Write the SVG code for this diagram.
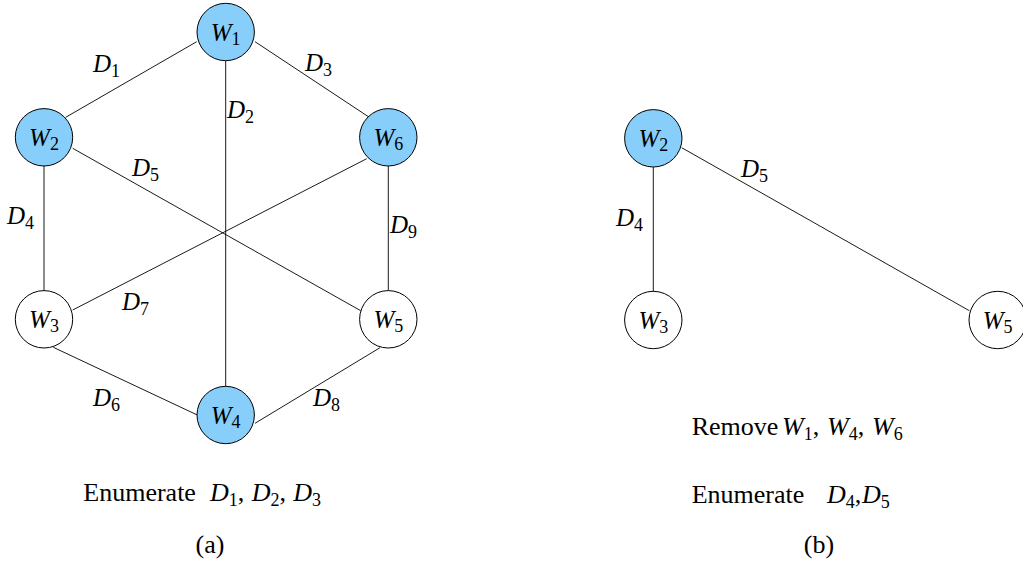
<svg xmlns="http://www.w3.org/2000/svg" width="1023" height="567" viewBox="0 0 1023 567">
<style>
text{font-family:'Liberation Serif','DejaVu Serif',serif;font-size:25px;fill:#000}
.i{font-style:italic}
.s{font-size:18px;font-style:normal}
.node{stroke:#000;stroke-width:1}
.on{fill:#87CEFA}
.off{fill:#fff}
.edge line{stroke:#000;stroke-width:0.9}
.cap{font-size:26px}
</style>
<rect width="1023" height="567" fill="#fff"/>
<g id="connectors" class="edge">
<line x1="196.7" y1="41.7" x2="65.7" y2="117.3"/>
<line x1="255" y1="41.7" x2="369.3" y2="117.3"/>
<line x1="225.7" y1="61" x2="225.7" y2="386.7"/>
<line x1="44" y1="166" x2="44" y2="290.7"/>
<line x1="388.3" y1="166" x2="388.3" y2="290.7"/>
<line x1="72.7" y1="148.3" x2="360.7" y2="310.7"/>
<line x1="366.7" y1="158.7" x2="72.7" y2="310"/>
<line x1="53.3" y1="347.3" x2="197.3" y2="415"/>
<line x1="255" y1="423.3" x2="380" y2="347.7"/>
<line x1="653.3" y1="166.7" x2="653.3" y2="291.7"/>
<line x1="681.7" y1="147.7" x2="969.3" y2="310.7"/>
</g>
<g id="edge-labels">
<text x="93" y="71.7" class="i">D<tspan class="s" dy="5">1</tspan></text>
<text x="305" y="71" class="i">D<tspan class="s" dy="5">3</tspan></text>
<text x="227" y="118" class="i">D<tspan class="s" dy="5">2</tspan></text>
<text x="132" y="175.7" class="i">D<tspan class="s" dy="5">5</tspan></text>
<text x="7" y="224" class="i">D<tspan class="s" dy="5">4</tspan></text>
<text x="390" y="233" class="i">D<tspan class="s" dy="5">9</tspan></text>
<text x="122" y="310" class="i">D<tspan class="s" dy="5">7</tspan></text>
<text x="93" y="405.7" class="i">D<tspan class="s" dy="5">6</tspan></text>
<text x="313" y="405.7" class="i">D<tspan class="s" dy="5">8</tspan></text>
<text x="741" y="176.7" class="i">D<tspan class="s" dy="5">5</tspan></text>
<text x="616" y="226" class="i">D<tspan class="s" dy="5">4</tspan></text>
</g>
<g id="a-W1"><circle class="node on" cx="225.7" cy="32" r="28.7"/><text x="225.7" y="41" text-anchor="middle" class="i">W<tspan class="s" dy="4">1</tspan></text></g>
<g id="a-W2"><circle class="node on" cx="44" cy="137.3" r="28.7"/><text x="44" y="146.3" text-anchor="middle" class="i">W<tspan class="s" dy="4">2</tspan></text></g>
<g id="a-W6"><circle class="node on" cx="388.3" cy="137.3" r="28.7"/><text x="388.3" y="146.3" text-anchor="middle" class="i">W<tspan class="s" dy="4">6</tspan></text></g>
<g id="a-W3"><circle class="node off" cx="44" cy="319.3" r="28.7"/><text x="44" y="328.3" text-anchor="middle" class="i">W<tspan class="s" dy="4">3</tspan></text></g>
<g id="a-W5"><circle class="node off" cx="388.3" cy="319.3" r="28.7"/><text x="388.3" y="328.3" text-anchor="middle" class="i">W<tspan class="s" dy="4">5</tspan></text></g>
<g id="a-W4"><circle class="node on" cx="225.7" cy="415" r="28.7"/><text x="225.7" y="424" text-anchor="middle" class="i">W<tspan class="s" dy="4">4</tspan></text></g>
<g id="b-W2"><circle class="node on" cx="653.3" cy="138.3" r="28.7"/><text x="653.3" y="147.3" text-anchor="middle" class="i">W<tspan class="s" dy="4">2</tspan></text></g>
<g id="b-W3"><circle class="node off" cx="653.3" cy="320" r="28.7"/><text x="653.3" y="329" text-anchor="middle" class="i">W<tspan class="s" dy="4">3</tspan></text></g>
<g id="b-W5"><circle class="node off" cx="997.7" cy="320" r="28.7"/><text x="997.7" y="329" text-anchor="middle" class="i">W<tspan class="s" dy="4">5</tspan></text></g>
<g id="captions">
<text class="cap" x="83.3" y="500.7">Enumerate<tspan class="i" x="210">D</tspan><tspan class="s" dy="5">1</tspan><tspan dy="-5">,</tspan><tspan class="i" x="251.7">D</tspan><tspan class="s" dy="5">2</tspan><tspan dy="-5">,</tspan><tspan class="i" x="293.3">D</tspan><tspan class="s" dy="5">3</tspan></text>
<text class="cap" x="210" y="553" text-anchor="middle">(a)</text>
<text class="cap" x="691.7" y="435">Remove<tspan class="i" x="782">W</tspan><tspan class="s" dy="5">1</tspan><tspan dy="-5">,</tspan><tspan class="i" x="827">W</tspan><tspan class="s" dy="5">4</tspan><tspan dy="-5">,</tspan><tspan class="i" x="872">W</tspan><tspan class="s" dy="5">6</tspan></text>
<text class="cap" x="691.7" y="503.3">Enumerate<tspan class="i" x="827">D</tspan><tspan class="s" dy="5">4</tspan><tspan dy="-5">,</tspan><tspan class="i" x="862">D</tspan><tspan class="s" dy="5">5</tspan></text>
<text class="cap" x="819" y="553" text-anchor="middle">(b)</text>
</g>
</svg>
